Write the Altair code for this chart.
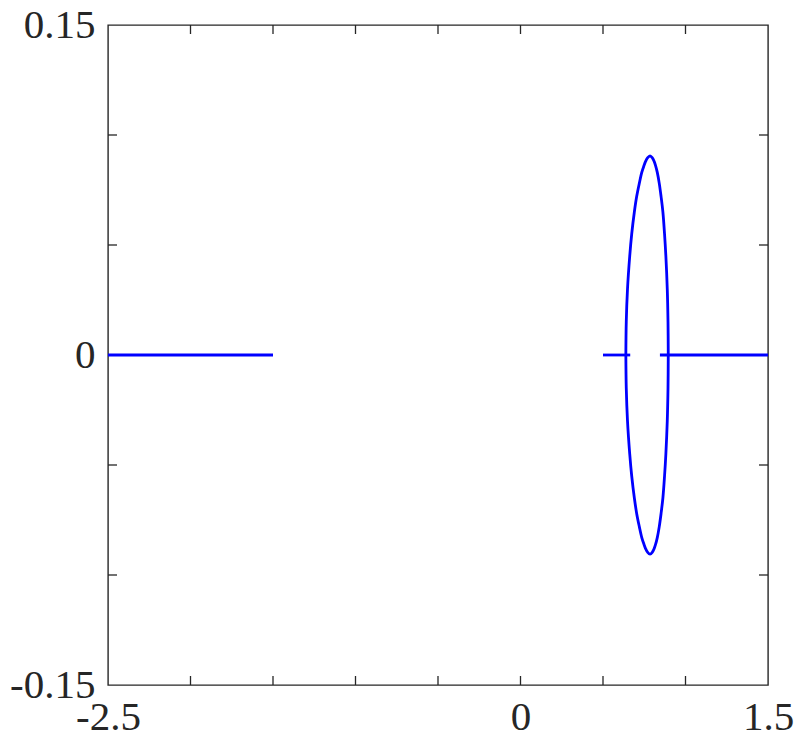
import altair as alt
import pandas as pd

# ---- data ----
left_x = [-2.5, -1.5]
left_y = [0.0, 0.0]
mid_x = [0.5, 0.665]
mid_y = [0.0, 0.0]
right_x = [0.845, 1.5]
right_y = [0.0, 0.0]

# closed loop: upper half (left -> top -> right), then lower half (right -> bottom -> left)
loop_up_x = [0.6385, 0.641, 0.6485, 0.662, 0.674, 0.690, 0.704, 0.720, 0.735,
             0.748, 0.758, 0.769, 0.785,
             0.800, 0.810, 0.819, 0.829, 0.841, 0.852, 0.863, 0.873, 0.881,
             0.8895, 0.894, 0.8955]
loop_up_y = [0.0, 0.015, 0.030, 0.045, 0.055, 0.065, 0.072, 0.078, 0.083,
             0.086, 0.088, 0.0895, 0.0905,
             0.0895, 0.088, 0.086, 0.083, 0.078, 0.072, 0.065, 0.055, 0.045,
             0.030, 0.015, 0.0]
loop_dn_x = [0.8955, 0.894, 0.8895, 0.881, 0.873, 0.863, 0.852, 0.841, 0.829,
             0.819, 0.810, 0.800, 0.785,
             0.769, 0.758, 0.748, 0.735, 0.720, 0.704, 0.690, 0.674, 0.662,
             0.6485, 0.641, 0.6385]
loop_dn_y = [0.0, -0.015, -0.030, -0.045, -0.055, -0.065, -0.072, -0.078, -0.083,
             -0.086, -0.088, -0.0895, -0.0905,
             -0.0895, -0.088, -0.086, -0.083, -0.078, -0.072, -0.065, -0.055, -0.045,
             -0.030, -0.015, 0.0]

x_ticks = [-2.0, -1.5, -1.0, -0.5, 0.0, 0.5, 1.0]
y_ticks = [-0.1, -0.05, 0.0, 0.05, 0.1]
x_labels = [-2.5, 0, 1.5]
y_labels = [-0.15, 0, 0.15]

rows = []
def add(seg, xs, ys, start=0):
    for i, (a, b) in enumerate(zip(xs, ys)):
        rows.append({"x": a, "y": b, "seg": seg, "idx": start + i})

add("a", left_x, left_y)
add("b", mid_x, mid_y)
add("c", right_x, right_y)
add("loop", loop_up_x, loop_up_y, 0)
add("loop", loop_dn_x, loop_dn_y, 100)
df = pd.DataFrame(rows)

xt = pd.DataFrame({"v": x_ticks})
yt = pd.DataFrame({"v": y_ticks})

W, H = 660, 660
FONT = "Liberation Serif"
FS = 41
GREY = "#262626"

xscale = alt.Scale(domain=[-2.5, 1.5], nice=False, zero=False)
yscale = alt.Scale(domain=[-0.15, 0.15], nice=False, zero=False)

lab_expr = ("datum.value == 0 ? '0' : replace(format(datum.value, '~g'), '\u2212', '-')")

xaxis = alt.Axis(values=x_labels, ticks=False, domain=False, grid=False,
                 labelFont=FONT, labelFontSize=FS, labelColor=GREY,
                 labelPadding=12, labelFlush=False, title=None,
                 labelExpr=lab_expr)
yaxis = alt.Axis(values=y_labels, ticks=False, domain=False, grid=False,
                 labelFont=FONT, labelFontSize=FS, labelColor=GREY,
                 labelPadding=13, labelFlush=False, title=None,
                 labelExpr=lab_expr)

lines = alt.Chart(df).mark_line(color="#0000ff", strokeWidth=2.8,
                                interpolate="catmull-rom").encode(
    x=alt.X("x:Q", scale=xscale, axis=xaxis),
    y=alt.Y("y:Q", scale=yscale, axis=yaxis),
    detail="seg:N",
    order="idx:Q",
)

TL = 9
tick_style = dict(color=GREY, strokeWidth=1.3)
xb = alt.Chart(xt).mark_rule(**tick_style).encode(
    x=alt.X("v:Q", scale=xscale), y=alt.value(H), y2=alt.value(H - TL))
xtop = alt.Chart(xt).mark_rule(**tick_style).encode(
    x=alt.X("v:Q", scale=xscale), y=alt.value(0), y2=alt.value(TL))
yl = alt.Chart(yt).mark_rule(**tick_style).encode(
    y=alt.Y("v:Q", scale=yscale), x=alt.value(0), x2=alt.value(TL))
yr = alt.Chart(yt).mark_rule(**tick_style).encode(
    y=alt.Y("v:Q", scale=yscale), x=alt.value(W), x2=alt.value(W - TL))

chart = alt.layer(xb, xtop, yl, yr, lines).properties(
    width=W, height=H,
    background="white",
    autosize=alt.AutoSizeParams(type="none"),
    padding={"left": 100, "top": 17, "right": 33, "bottom": 60},
).configure_view(stroke=GREY, strokeWidth=1.4)

chart.save("out.html", embed_options={"renderer": "svg", "actions": False})
